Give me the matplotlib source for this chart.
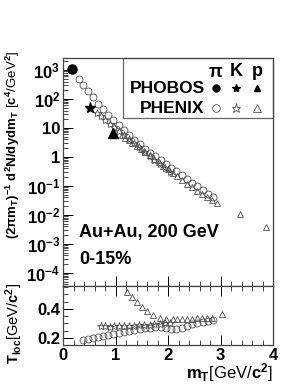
import numpy as np
import matplotlib
matplotlib.use('Agg')
from matplotlib import pyplot as plt
from matplotlib.ticker import FixedLocator, MultipleLocator, LogLocator, NullFormatter

plt.rcParams['font.family'] = ['Liberation Sans', 'DejaVu Sans']
plt.rcParams['font.weight'] = 'bold'
plt.rcParams['mathtext.fontset'] = 'custom'
plt.rcParams['mathtext.rm'] = 'Liberation Sans:bold'
plt.rcParams['mathtext.bf'] = 'Liberation Sans:bold'
plt.rcParams['mathtext.it'] = 'Liberation Sans:bold'
plt.rcParams['mathtext.default'] = 'bf'

# PHOBOS (filled) low-mT points
phobos_mt = [0.165, 0.51, 0.95]
phobos_log = [3.05, 1.70, 0.82]

# PHENIX pions, spectrum (log10 values)
pi_mt = [0.30, 0.39, 0.48, 0.57, 0.67, 0.76, 0.86, 0.96, 1.06, 1.16, 1.26, 1.36, 1.46,
         1.56, 1.66, 1.76, 1.86, 1.96, 2.06, 2.16, 2.26, 2.36, 2.46, 2.56, 2.66, 2.76, 2.86]
pi_log = [2.68, 2.48, 2.27, 2.07, 1.84, 1.64, 1.46, 1.28, 1.09, 0.92, 0.75, 0.58, 0.44,
          0.29, 0.15, 0.02, -0.11, -0.24, -0.37, -0.50, -0.63, -0.76, -0.89, -1.02, -1.15, -1.28, -1.40]

# PHENIX kaons
k_mt = [0.64, 0.72, 0.80, 0.89, 0.98, 1.07, 1.16, 1.26, 1.35, 1.45, 1.55, 1.65, 1.74, 1.84, 1.94, 2.04]
k_log = [1.52, 1.40, 1.28, 1.15, 1.02, 0.89, 0.75, 0.61, 0.47, 0.33, 0.18, 0.04, -0.09, -0.23, -0.37, -0.51]

# PHENIX protons
p_mt = [1.12, 1.18, 1.25, 1.32, 1.40, 1.48, 1.56, 1.65, 1.73, 1.82, 1.91, 2.00, 2.09, 2.18,
        2.27, 2.37, 2.46, 2.56, 2.65, 2.75, 2.84, 2.94, 3.37, 3.86]
p_log = [0.75, 0.67, 0.58, 0.49, 0.39, 0.28, 0.17, 0.05, -0.07, -0.19, -0.31, -0.43, -0.55, -0.67,
         -0.79, -0.92, -1.04, -1.16, -1.27, -1.38, -1.48, -1.58, -1.96, -2.41]

# local slope T_loc
tpi_mt = [0.39, 0.48, 0.57, 0.67, 0.76, 0.86, 0.96, 1.06, 1.16, 1.26, 1.36, 1.46, 1.56,
          1.66, 1.76, 1.86, 1.96, 2.06, 2.16, 2.26, 2.36, 2.46, 2.56, 2.66, 2.76, 2.86]
tpi = [0.186, 0.193, 0.200, 0.207, 0.214, 0.221, 0.228, 0.235, 0.242, 0.249, 0.256, 0.262, 0.268,
       0.272, 0.275, 0.276, 0.270, 0.262, 0.264, 0.272, 0.283, 0.294, 0.303, 0.312, 0.320, 0.326]
tk_mt = [0.72, 0.80, 0.89, 0.98, 1.07, 1.16, 1.26, 1.35, 1.45, 1.55, 1.65, 1.74, 1.84, 1.94, 2.04]
tk = [0.280, 0.280, 0.279, 0.280, 0.281, 0.282, 0.283, 0.285, 0.287, 0.289, 0.292, 0.295, 0.298, 0.300, 0.302]
tp_mt = [1.21, 1.31, 1.40, 1.50, 1.60, 1.72, 1.85, 1.97, 2.09, 2.18, 2.27, 2.37, 2.46, 2.56,
         2.65, 2.75, 2.84, 3.02]
tp = [0.520, 0.485, 0.450, 0.416, 0.385, 0.360, 0.340, 0.330, 0.330, 0.332, 0.328, 0.330, 0.333,
      0.335, 0.336, 0.338, 0.340, 0.368]

fig = plt.figure(figsize=(3.0, 3.88), dpi=100)
ax1 = fig.add_axes([0.21, 0.2629, 0.70, 0.5876])
ax2 = fig.add_axes([0.21, 0.1108, 0.70, 0.1521])

mk = dict(linestyle='none', color='black')
op = dict(linestyle='none', mfc='none', mec='#505050', mew=0.6)

ax1.semilogy(pi_mt, 10 ** np.array(pi_log), 'o', ms=5, **op)
ax1.semilogy(k_mt, 10 ** np.array(k_log), '*', ms=6, **op)
ax1.semilogy(p_mt, 10 ** np.array(p_log), '^', ms=5, **op)
ax1.semilogy(phobos_mt[0], 10 ** phobos_log[0], 'o', ms=6.5, **mk)
ax1.semilogy(phobos_mt[1], 10 ** phobos_log[1], '*', ms=8, **mk)
ax1.semilogy(phobos_mt[2], 10 ** phobos_log[2], '^', ms=6.5, **mk)

ax1.set_xlim(0, 4)
ax1.set_ylim(3.5e-5, 2.6e3)
ax1.yaxis.set_major_locator(FixedLocator([1e-4, 1e-3, 1e-2, 1e-1, 1, 10, 1e2, 1e3]))
ax1.set_yticklabels([r'$10^{-4}$', r'$10^{-3}$', r'$10^{-2}$', r'$10^{-1}$', '1', '10',
                     r'$10^{2}$', r'$10^{3}$'])
ax1.yaxis.set_minor_locator(LogLocator(base=10, subs=np.arange(2, 10), numticks=20))
ax1.yaxis.set_minor_formatter(NullFormatter())
ax1.xaxis.set_major_locator(MultipleLocator(1))
ax1.xaxis.set_minor_locator(MultipleLocator(0.2))
ax1.tick_params(axis='x', labelbottom=False)
ax1.tick_params(which='both', direction='in', top=False, right=False, labelsize=12, pad=2)
ax1.tick_params(which='major', length=7, width=0.7)
ax1.tick_params(which='minor', length=3.5, width=0.5)
ax1.set_ylabel(r'$(2\pi m_T)^{-1}$ $d^{2}N/dydm_T$ [$c^{4}$/GeV$^{2}$]', fontsize=9.5)
ax1.yaxis.set_label_coords(-0.195, 0.62)

ax1.text(0.075, 0.235, 'Au+Au, 200 GeV', transform=ax1.transAxes, fontsize=13,
         fontweight='bold', va='center')
ax1.text(0.075, 0.115, '0-15%', transform=ax1.transAxes, fontsize=13,
         fontweight='bold', va='center')

# legend box
ax1.add_patch(plt.Rectangle((0.285, 0.735), 0.715, 0.265, transform=ax1.transAxes,
                            fill=False, ec='#666666', lw=0.9, clip_on=False))
cols = [0.728, 0.825, 0.925]
ax1.text(cols[0], 0.94, r'$\pi$', transform=ax1.transAxes, ha='center', va='center',
         fontsize=13, family='DejaVu Serif')
ax1.text(cols[1], 0.94, 'K', transform=ax1.transAxes, ha='center', va='center', fontsize=13)
ax1.text(cols[2], 0.94, 'p', transform=ax1.transAxes, ha='center', va='center', fontsize=13)
ax1.text(0.675, 0.867, 'PHOBOS', transform=ax1.transAxes, ha='right', va='center', fontsize=12.5)
ax1.text(0.675, 0.78, 'PHENIX', transform=ax1.transAxes, ha='right', va='center', fontsize=12.5)
for c, m, s in zip(cols, ['o', '*', '^'], [5, 6, 5]):
    ax1.plot(c, 0.867, m, ms=s, transform=ax1.transAxes, **mk)
    ax1.plot(c, 0.78, m, ms=s + 0.5, transform=ax1.transAxes, **op)

ax2.plot(tpi_mt, tpi, 'o', ms=5, **op)
ax2.plot(tk_mt, tk, '*', ms=6, **op)
ax2.plot(tp_mt, tp, '^', ms=5, **op)
ax2.set_xlim(0, 4)
ax2.set_ylim(0.152, 0.558)
ax2.yaxis.set_major_locator(FixedLocator([0.2, 0.4]))
ax2.yaxis.set_minor_locator(MultipleLocator(0.05))
ax2.xaxis.set_major_locator(MultipleLocator(1))
ax2.xaxis.set_minor_locator(MultipleLocator(0.2))
ax2.tick_params(which='both', direction='in', top=True, right=False, labelsize=12, pad=2)
ax2.tick_params(which='major', length=7, width=0.7)
ax2.tick_params(which='minor', length=3.5, width=0.5)
ax2.set_ylabel(r'$T_{loc}$[GeV/$c^{2}$]', fontsize=10.5)
ax2.yaxis.set_label_coords(-0.18, 0.36)
ax2.set_xlabel(r'$m_T$[GeV/$c^{2}$]', fontsize=12, loc='right', labelpad=-1)

for a in (ax1, ax2):
    for s in a.spines.values():
        s.set_linewidth(0.9)
        s.set_color('#444444')

fig.savefig('out.png', dpi=100)
